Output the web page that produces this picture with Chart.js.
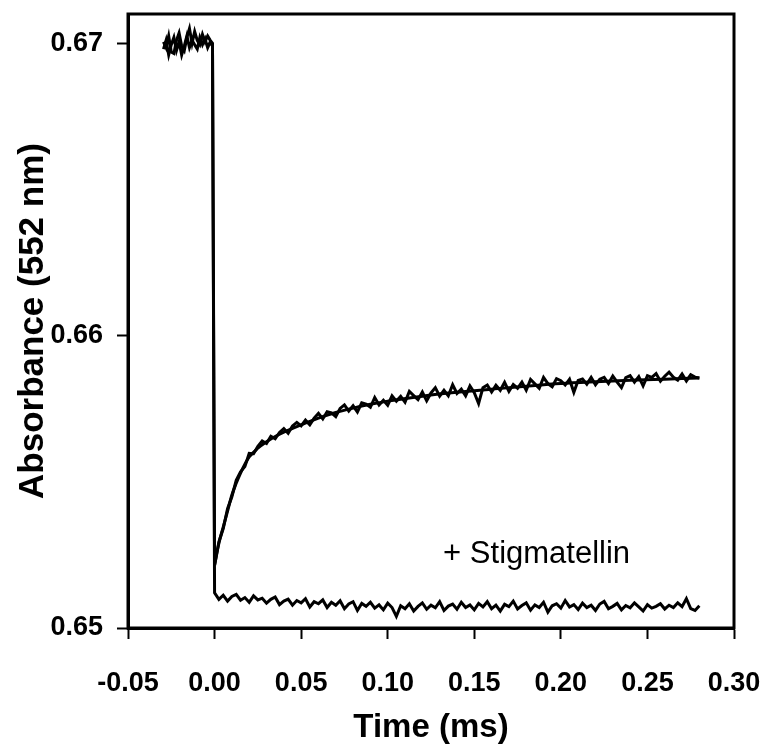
<!DOCTYPE html>
<html lang="en">
<head>
  <meta charset="UTF-8" />
  <title>Absorbance 552 nm</title>
  <script src="https://cdn.jsdelivr.net/npm/chart.js"></script>
  <style>
    body { margin: 0; background: #ffffff; }
    .chart-box { width: 769px; height: 748px; }
  </style>
</head>
<body>
  <div class="chart-box"><canvas id="grafica"></canvas></div>

  <script>
    // ticks
    const X_TICKS = [-0.05, 0.00, 0.05, 0.10, 0.15, 0.20, 0.25, 0.30];
    const Y_TICKS = [0.65, 0.66, 0.67];

    // time before the flash (ms)
    const PRE_TIME = [-0.0295, -0.0280, -0.0265, -0.0250, -0.0235, -0.0220, -0.0205, -0.0190, -0.0175, -0.0160,
      -0.0145, -0.0130, -0.0115, -0.0100, -0.0085, -0.0070, -0.0055, -0.0040, -0.0025, -0.0012];

    // time after the flash (ms)
    const POST_TIME = [0, 0.0025, 0.005, 0.0075, 0.01, 0.0125, 0.015, 0.0175, 0.02, 0.0225,
      0.025, 0.0275, 0.03, 0.0325, 0.035, 0.0375, 0.04, 0.0425, 0.045, 0.0475,
      0.05, 0.0525, 0.055, 0.0575, 0.06, 0.0625, 0.065, 0.0675, 0.07, 0.0725,
      0.075, 0.0775, 0.08, 0.0825, 0.085, 0.0875, 0.09, 0.0925, 0.095, 0.0975,
      0.1, 0.1025, 0.105, 0.1075, 0.11, 0.1125, 0.115, 0.1175, 0.12, 0.1225,
      0.125, 0.1275, 0.13, 0.1325, 0.135, 0.1375, 0.14, 0.1425, 0.145, 0.1475,
      0.15, 0.1525, 0.155, 0.1575, 0.16, 0.1625, 0.165, 0.1675, 0.17, 0.1725,
      0.175, 0.1775, 0.18, 0.1825, 0.185, 0.1875, 0.19, 0.1925, 0.195, 0.1975,
      0.2, 0.2025, 0.205, 0.2075, 0.21, 0.2125, 0.215, 0.2175, 0.22, 0.2225,
      0.225, 0.2275, 0.23, 0.2325, 0.235, 0.2375, 0.24, 0.2425, 0.245, 0.2475,
      0.25, 0.2525, 0.255, 0.2575, 0.26, 0.2625, 0.265, 0.2675, 0.27, 0.2725,
      0.275, 0.2775, 0.28];

    // control trace
    const CONTROL_PRE = [0.67005, 0.66985, 0.67025, 0.66970, 0.66965, 0.67010, 0.67035, 0.66990, 0.66975, 0.67020,
      0.67050, 0.67000, 0.67040, 0.67010, 0.66995, 0.67030, 0.67005, 0.67025, 0.67010, 0.67000];
    const CONTROL_POST = [0.65215, 0.65295, 0.65340, 0.65408, 0.65449, 0.65505, 0.65534, 0.65552, 0.65597, 0.65596,
      0.65621, 0.65640, 0.65631, 0.65656, 0.65647, 0.65669, 0.65682, 0.65666, 0.65691, 0.65703,
      0.65691, 0.65711, 0.65695, 0.65718, 0.65734, 0.65715, 0.65740, 0.65736, 0.65723, 0.65751,
      0.65763, 0.65742, 0.65760, 0.65739, 0.65770, 0.65766, 0.65755, 0.65788, 0.65763, 0.65779,
      0.65762, 0.65794, 0.65776, 0.65792, 0.65772, 0.65809, 0.65795, 0.65781, 0.65807, 0.65777,
      0.65804, 0.65822, 0.65793, 0.65813, 0.65794, 0.65832, 0.65802, 0.65817, 0.65794, 0.65828,
      0.65805, 0.65768, 0.65822, 0.65831, 0.65807, 0.65830, 0.65813, 0.65840, 0.65809, 0.65833,
      0.65820, 0.65841, 0.65813, 0.65850, 0.65835, 0.65820, 0.65857, 0.65836, 0.65825, 0.65853,
      0.65846, 0.65831, 0.65851, 0.65806, 0.65847, 0.65852, 0.65834, 0.65857, 0.65832, 0.65851,
      0.65857, 0.65836, 0.65862, 0.65841, 0.65822, 0.65856, 0.65863, 0.65841, 0.65860, 0.65828,
      0.65863, 0.65857, 0.65870, 0.65844, 0.65861, 0.65875, 0.65858, 0.65848, 0.65869, 0.65845,
      0.65866, 0.65858, 0.65855];

    // fitted curve over the control trace
    const FIT_TIME = [0, 0.0025, 0.005, 0.0075, 0.01, 0.0125, 0.015, 0.0175, 0.02, 0.025, 0.03, 0.035, 0.04,
      0.05, 0.06, 0.07, 0.08, 0.09, 0.10, 0.12, 0.14, 0.16, 0.18, 0.20, 0.22, 0.24, 0.26, 0.28];
    const FIT_ABS = [0.65215, 0.65290, 0.65345, 0.65400, 0.65455, 0.65495, 0.65530, 0.65560, 0.65585, 0.65615,
      0.65637, 0.65655, 0.65670, 0.65695, 0.65718, 0.65737, 0.65752, 0.65765, 0.65776, 0.65793,
      0.65806, 0.65817, 0.65827, 0.65836, 0.65842, 0.65847, 0.65851, 0.65855];

    // + stigmatellin trace
    const STIG_PRE = [0.66980, 0.67010, 0.66960, 0.66995, 0.67020, 0.66975, 0.67005, 0.66960, 0.66990, 0.67025,
      0.66985, 0.67010, 0.66995, 0.66980, 0.67020, 0.66995, 0.67015, 0.66985, 0.67005, 0.66990];
    const STIG_POST = [0.65120, 0.65098, 0.65112, 0.65092, 0.65108, 0.65115, 0.65095, 0.65104, 0.65088, 0.65110,
      0.65096, 0.65102, 0.65085, 0.65098, 0.65106, 0.65080, 0.65092, 0.65099, 0.65078, 0.65094,
      0.65086, 0.65100, 0.65072, 0.65090, 0.65083, 0.65096, 0.65070, 0.65088, 0.65078, 0.65093,
      0.65066, 0.65082, 0.65090, 0.65060, 0.65084, 0.65074, 0.65088, 0.65068, 0.65079, 0.65062,
      0.65085, 0.65070, 0.65040, 0.65076, 0.65066, 0.65083, 0.65058, 0.65074, 0.65086, 0.65064,
      0.65078, 0.65069, 0.65090, 0.65060, 0.65075, 0.65082, 0.65064, 0.65088, 0.65070, 0.65079,
      0.65062, 0.65084, 0.65072, 0.65090, 0.65066, 0.65078, 0.65058, 0.65081, 0.65073, 0.65092,
      0.65065, 0.65077, 0.65086, 0.65061, 0.65079, 0.65070, 0.65088, 0.65054, 0.65076, 0.65083,
      0.65068, 0.65094, 0.65072, 0.65080, 0.65063, 0.65085, 0.65070, 0.65078, 0.65060, 0.65082,
      0.65091, 0.65066, 0.65074, 0.65084, 0.65062, 0.65077, 0.65069, 0.65086, 0.65072, 0.65058,
      0.65080, 0.65068, 0.65074, 0.65083, 0.65065, 0.65078, 0.65070, 0.65086, 0.65073, 0.65100,
      0.65066, 0.65060, 0.65076];

    const LABEL_TEXT = '+ Stigmatellin';
    const LABEL_AT = { x: 0.132, y: 0.65253 };

    function puntos(tiempos, valores) {
      return tiempos.map((t, i) => ({ x: t, y: valores[i] }));
    }

    const traza = {
      borderColor: '#000',
      borderWidth: 3,
      pointRadius: 0,
      tension: 0,
      fill: false
    };

    // fixed axis box, no overflow padding from the labels
    function fijarCaja(s, prop, tam) {
      s[prop] = tam;
      s.paddingLeft = 0;
      s.paddingRight = 0;
      s.paddingTop = 0;
      s.paddingBottom = 0;
    }

    // frame + inline label
    const marco = {
      id: 'marco',
      afterDraw(chart) {
        const { ctx, chartArea: a, scales } = chart;
        ctx.save();
        ctx.strokeStyle = '#000';
        ctx.lineWidth = 3;
        ctx.strokeRect(a.left, a.top, a.right - a.left, a.bottom - a.top);
        ctx.fillStyle = '#000';
        ctx.font = '31px "Liberation Sans", Arial, sans-serif';
        ctx.textBaseline = 'middle';
        ctx.fillText(LABEL_TEXT, scales.x.getPixelForValue(LABEL_AT.x), scales.y.getPixelForValue(LABEL_AT.y));
        ctx.restore();
      }
    };

    const fuente = '"Liberation Sans", Arial, sans-serif';

    new Chart(document.getElementById('grafica'), {
      type: 'line',
      data: {
        datasets: [
          { ...traza, label: 'control', data: puntos(PRE_TIME.concat(POST_TIME), CONTROL_PRE.concat(CONTROL_POST)) },
          { ...traza, label: '+ Stigmatellin', data: puntos(PRE_TIME.concat(POST_TIME), STIG_PRE.concat(STIG_POST)) },
          { ...traza, label: 'fit', data: puntos(FIT_TIME, FIT_ABS), cubicInterpolationMode: 'monotone' }
        ]
      },
      options: {
        responsive: true,
        maintainAspectRatio: false,
        animation: false,
        layout: { padding: { top: 14, right: 35, left: 0, bottom: 0 } },
        plugins: { legend: { display: false }, tooltip: { enabled: false } },
        scales: {
          x: {
            type: 'linear',
            min: -0.05,
            max: 0.30,
            afterFit: s => fijarCaja(s, 'height', 120),
            afterBuildTicks: s => { s.ticks = X_TICKS.map(v => ({ value: v })); },
            border: { display: true, color: '#000', width: 3 },
            grid: { drawOnChartArea: false, drawTicks: true, tickLength: 11, tickWidth: 2, tickColor: '#000' },
            ticks: {
              color: '#000',
              padding: 28,
              maxRotation: 0,
              font: { family: fuente, size: 27, weight: 'bold' },
              callback: v => v.toFixed(2)
            },
            title: {
              display: true,
              text: 'Time (ms)',
              color: '#000',
              font: { family: fuente, size: 33, weight: 'bold' },
              padding: { top: 0, bottom: 0 }
            }
          },
          y: {
            min: 0.65,
            max: 0.671,
            afterFit: s => fijarCaja(s, 'width', 128),
            afterBuildTicks: s => { s.ticks = Y_TICKS.map(v => ({ value: v })); },
            border: { display: true, color: '#000', width: 3 },
            grid: { drawOnChartArea: false, drawTicks: true, tickLength: 11, tickWidth: 2, tickColor: '#000' },
            ticks: {
              color: '#000',
              padding: 14,
              font: { family: fuente, size: 27, weight: 'bold' },
              callback: v => v.toFixed(2)
            },
            title: {
              display: true,
              text: 'Absorbance (552 nm)',
              color: '#000',
              font: { family: fuente, size: 35, weight: 'bold' },
              padding: { top: 12, bottom: 0 }
            }
          }
        }
      },
      plugins: [marco]
    });
  </script>
</body>
</html>
